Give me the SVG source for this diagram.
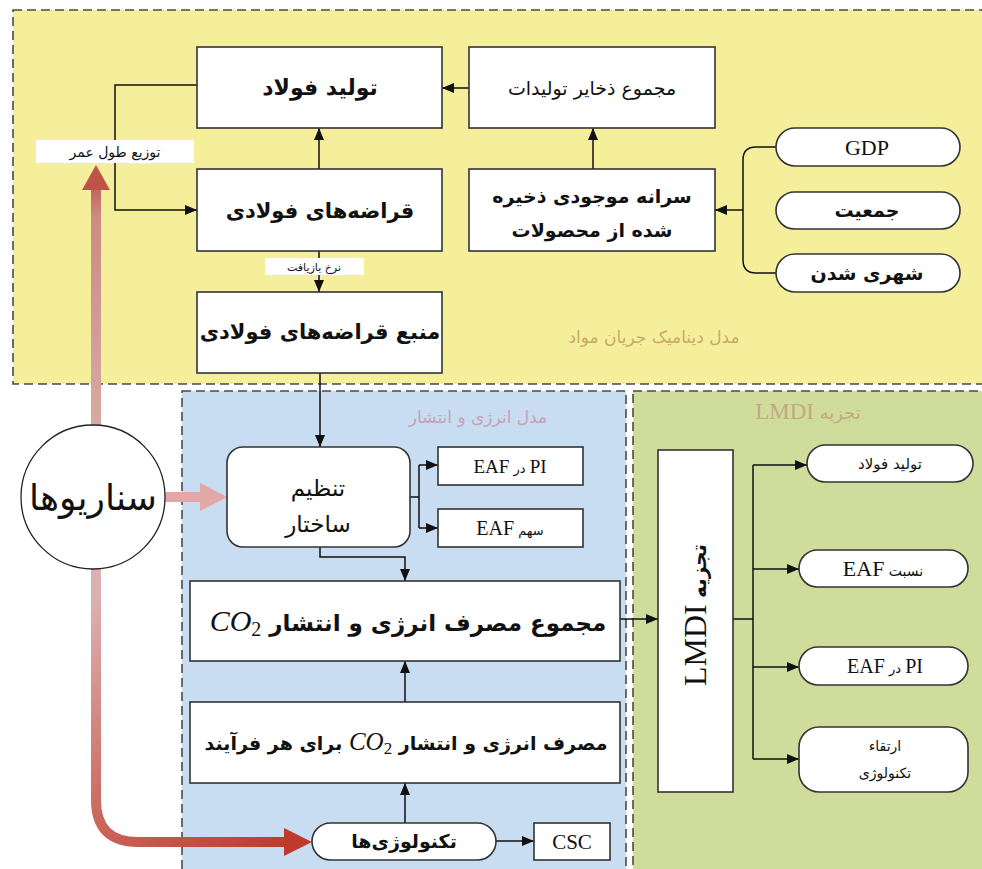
<svg xmlns="http://www.w3.org/2000/svg" width="982" height="869" viewBox="0 0 982 869">
<defs>
<style>
.region{stroke:#4a4a4a;stroke-width:1.6;stroke-dasharray:9 5;}
.box{fill:#fff;stroke:#333;stroke-width:1.6;}
.conn{fill:none;stroke:#111;stroke-width:1.5;}
.fa{font-family:"DejaVu Sans",sans-serif;fill:#111;text-anchor:middle;}
.lat{font-family:"Liberation Serif","Times New Roman",serif;}
.b{font-weight:bold;}
</style>
<marker id="ah" viewBox="0 0 12 10" refX="12" refY="5" markerWidth="12" markerHeight="10" orient="auto" markerUnits="userSpaceOnUse"><path d="M0,0 L12,5 L0,10 z" fill="#111"/></marker>
<linearGradient id="gUp" gradientUnits="userSpaceOnUse" x1="0" y1="427" x2="0" y2="165">
<stop offset="0" stop-color="#d8aaa4"/><stop offset="0.8" stop-color="#cc8c84"/><stop offset="1" stop-color="#b8483c"/>
</linearGradient>
<linearGradient id="gDown" gradientUnits="userSpaceOnUse" x1="96" y1="600" x2="290" y2="842">
<stop offset="0" stop-color="#dcb0b0"/><stop offset="0.5" stop-color="#cc6e64"/><stop offset="1" stop-color="#bf3a2c"/>
</linearGradient>
</defs>
<rect x="0" y="0" width="982" height="869" fill="#fff"/>
<g id="regions">
<rect class="region" x="13" y="10" width="985" height="374" fill="#f5ef9c"/>
<rect class="region" x="182" y="391" width="444" height="495" fill="#c8dcf2"/>
<rect class="region" x="633" y="391" width="365" height="495" fill="#d0dc9c"/>
<text class="fa" x="654" y="343" font-size="17" style="fill:#c9a96a">مدل دینامیک جریان مواد</text>
<text class="fa" x="478" y="423" font-size="17" style="fill:#c4a4b4">مدل انرژی و انتشار</text>
<text class="fa" x="808" y="419" font-size="18" direction="rtl" style="fill:#c4a882">تجزیه <tspan class="lat" font-size="23">LMDI</tspan></text>
</g>
<g id="connectors">
<path class="conn" d="M469,88 H442" marker-end="url(#ah)"/>
<path class="conn" d="M593,169 V128" marker-end="url(#ah)"/>
<path class="conn" d="M319,169 V128" marker-end="url(#ah)"/>
<path class="conn" d="M197,85 H115 V210 H197" marker-end="url(#ah)"/>
<path class="conn" d="M776,147 H756 Q743,147 743,160 V260 Q743,273 756,273 H776"/>
<path class="conn" d="M743,210 H715" marker-end="url(#ah)"/>
<path class="conn" d="M319,251 V292" marker-end="url(#ah)"/>
<path class="conn" d="M320,373 V447" marker-end="url(#ah)"/>
<path class="conn" d="M410,497 H419 M419,465 V528"/>
<path class="conn" d="M419,465 H438" marker-end="url(#ah)"/>
<path class="conn" d="M419,528 H438" marker-end="url(#ah)"/>
<path class="conn" d="M320,547 V557 H405 V581" marker-end="url(#ah)"/>
<path class="conn" d="M405,702 V661" marker-end="url(#ah)"/>
<path class="conn" d="M405,823 V783" marker-end="url(#ah)"/>
<path class="conn" d="M496,841 H534" marker-end="url(#ah)"/>
<path class="conn" d="M620,619 H658" marker-end="url(#ah)"/>
<path class="conn" d="M733,619 H753 M753,465 V759"/>
<path class="conn" d="M753,465 H807" marker-end="url(#ah)"/>
<path class="conn" d="M753,569 H799" marker-end="url(#ah)"/>
<path class="conn" d="M753,667 H799" marker-end="url(#ah)"/>
<path class="conn" d="M753,759 H799" marker-end="url(#ah)"/>
<rect x="91" y="189" width="10" height="238" fill="url(#gUp)"/>
<path d="M82,190 L96,165 L110,190 Z" fill="#bc5548"/>
<rect x="165" y="492" width="37" height="10" fill="#e2a8a5"/>
<path d="M200,483 L227,497 L200,511 Z" fill="#e2a8a5"/>
<path d="M96,568 V800 Q96,842 138,842 H287" fill="none" stroke="url(#gDown)" stroke-width="10"/>
<path d="M284,828 L312,842 L284,856 Z" fill="#bf3a2c"/>
<rect x="36" y="140" width="158" height="23" fill="#fff"/>
<text class="fa" x="115" y="157" font-size="14">توزیع طول عمر</text>
<rect x="265" y="258" width="99" height="17" fill="#fff"/>
<text class="fa" x="314" y="271" font-size="11">نرخ بازیافت</text>
</g>
<g id="n_steelprod"><rect class="box" x="197" y="47" width="245" height="81"/><text class="fa b" x="320" y="95" font-size="22">تولید فولاد</text></g>
<g id="n_scrap"><rect class="box" x="197" y="169" width="245" height="82"/><text class="fa b" x="320" y="218" font-size="21">قراضه‌های فولادی</text></g>
<g id="n_stock"><rect class="box" x="469" y="47" width="246" height="81"/><text class="fa" x="592" y="95" font-size="19">مجموع ذخایر تولیدات</text></g>
<g id="n_percap"><rect class="box" x="469" y="169" width="246" height="82"/><text class="fa b" x="592" y="203" font-size="19">سرانه موجودی ذخیره</text><text class="fa b" x="592" y="237" font-size="19">شده از محصولات</text></g>
<g id="n_gdp"><rect class="box" x="776" y="128" width="184" height="38" rx="19"/><text class="lat" x="867" y="155" font-size="22" text-anchor="middle" fill="#111">GDP</text></g>
<g id="n_pop"><rect class="box" x="776" y="192" width="184" height="37" rx="18.5"/><text class="fa b" x="867" y="217" font-size="19">جمعیت</text></g>
<g id="n_urban"><rect class="box" x="776" y="254" width="184" height="38" rx="19"/><text class="fa b" x="867" y="280" font-size="19">شهری شدن</text></g>
<g id="n_scrapres"><rect class="box" x="197" y="292" width="245" height="81"/><text class="fa b" x="320" y="339" font-size="21">منبع قراضه‌های فولادی</text></g>
<g id="n_scen"><circle cx="93" cy="497" r="72" fill="#fff" stroke="#222" stroke-width="1.3"/><text class="fa" x="93" y="510" font-size="36">سناریوها</text></g>
<g id="n_struct"><rect class="box" x="227" y="447" width="183" height="100" rx="16"/><text class="fa" x="318" y="496" font-size="23">تنظیم</text><text class="fa" x="318" y="532" font-size="23">ساختار</text></g>
<g id="n_pi"><rect class="box" x="438" y="447" width="145" height="38"/><text class="fa" x="510" y="473" font-size="13" direction="rtl"><tspan class="lat" font-size="19">PI</tspan> در <tspan class="lat" font-size="19">EAF</tspan></text></g>
<g id="n_share"><rect class="box" x="438" y="509" width="145" height="38"/><text class="fa" x="510" y="535" font-size="13" direction="rtl">سهم <tspan class="lat" font-size="20">EAF</tspan></text></g>
<g id="n_total"><rect class="box" x="190" y="581" width="430" height="80"/><text class="fa b" x="408" y="631" font-size="23" direction="rtl">مجموع مصرف انرژی و انتشار <tspan class="lat" font-style="italic" font-weight="normal" font-size="30">CO</tspan><tspan class="lat" font-weight="normal" font-size="20" baseline-shift="-5">2</tspan></text></g>
<g id="n_proc"><rect class="box" x="190" y="702" width="430" height="81"/><text class="fa b" x="406" y="750" font-size="19" direction="rtl">مصرف انرژی و انتشار <tspan class="lat" font-style="italic" font-weight="normal" font-size="25">CO</tspan><tspan class="lat" font-weight="normal" font-size="17" baseline-shift="-4">2</tspan> برای هر فرآیند</text></g>
<g id="n_tech"><rect class="box" x="312" y="823" width="184" height="37" rx="18.5"/><text class="fa b" x="404" y="848" font-size="19">تکنولوژی‌ها</text></g>
<g id="n_csc"><rect class="box" x="534" y="823" width="76" height="37"/><text class="lat" x="572" y="849" font-size="21" text-anchor="middle" fill="#111">CSC</text></g>
<g id="n_lmdi"><rect class="box" x="658" y="450" width="75" height="342"/><text class="fa" transform="translate(706,615) rotate(-90)" x="0" y="0" font-size="20" direction="rtl"><tspan class="b">تجزیه</tspan> <tspan class="lat" font-size="32">LMDI</tspan></text></g>
<g id="n_d1"><rect class="box" x="807" y="445" width="166" height="37" rx="18.5"/><text class="fa" x="890" y="469" font-size="15">تولید فولاد</text></g>
<g id="n_d2"><rect class="box" x="799" y="550" width="169" height="37" rx="18.5"/><text class="fa" x="883" y="576" font-size="14" direction="rtl">نسبت <tspan class="lat" font-size="22">EAF</tspan></text></g>
<g id="n_d3"><rect class="box" x="799" y="647" width="169" height="38" rx="19"/><text class="fa" x="885" y="673" font-size="13" direction="rtl"><tspan class="lat" font-size="20">PI</tspan> در <tspan class="lat" font-size="20">EAF</tspan></text></g>
<g id="n_d4"><rect class="box" x="799" y="727" width="169" height="65" rx="20"/><text class="fa" x="885" y="751" font-size="14">ارتقاء</text><text class="fa" x="885" y="778" font-size="14">تکنولوژی</text></g>
</svg>
